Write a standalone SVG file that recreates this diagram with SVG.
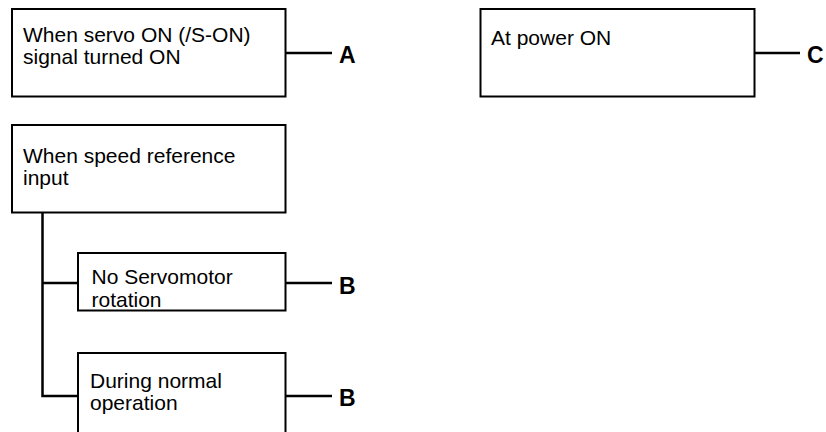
<svg xmlns="http://www.w3.org/2000/svg" width="826" height="432" viewBox="0 0 826 432">
<style>
.box{fill:#fff;stroke:#000;stroke-width:2}
.t{font-family:"Liberation Sans",Arial,sans-serif;font-size:21px;fill:#000}
.lbl{font-family:"Liberation Sans",Arial,sans-serif;font-size:23px;font-weight:bold;fill:#000}
.c{stroke:#000;stroke-width:2.5;fill:none}
</style>
<rect width="826" height="432" fill="#fff"/>
<g id="connectors">
<line class="c" x1="286" y1="53" x2="332" y2="53"/>
<line class="c" x1="755" y1="53" x2="800" y2="53"/>
<polyline class="c" points="42.5,213 42.5,396 78,396"/>
<line class="c" x1="42.5" y1="283" x2="78" y2="283"/>
<line class="c" x1="286" y1="283" x2="332" y2="283"/>
<line class="c" x1="286" y1="396" x2="332" y2="396"/>
</g>
<g id="nodeServo">
<rect class="box" x="12" y="9" width="273.5" height="87.5"/>
<text class="t" x="23" y="42">When servo ON (/S-ON)</text>
<text class="t" x="23" y="64">signal turned ON</text>
</g>
<g id="labelA"><text class="lbl" x="339" y="63">A</text></g>
<g id="nodePower">
<rect class="box" x="480.5" y="9" width="274" height="87.5"/>
<text class="t" x="491" y="45">At power ON</text>
</g>
<g id="labelC"><text class="lbl" x="807" y="63">C</text></g>
<g id="nodeSpeed">
<rect class="box" x="12" y="125" width="273.5" height="87.5"/>
<text class="t" x="23" y="162.5">When speed reference</text>
<text class="t" x="23" y="185">input</text>
</g>
<g id="nodeNoRot">
<rect class="box" x="78" y="253" width="207.5" height="57.5"/>
<text class="t" x="91.5" y="284">No Servomotor</text>
<text class="t" x="91.5" y="306.5">rotation</text>
</g>
<g id="labelB1"><text class="lbl" x="339" y="294">B</text></g>
<g id="nodeNormal">
<rect class="box" x="78" y="353" width="207.5" height="90"/>
<text class="t" x="90" y="388">During normal</text>
<text class="t" x="90" y="410">operation</text>
</g>
<g id="labelB2"><text class="lbl" x="339" y="406">B</text></g>
</svg>
